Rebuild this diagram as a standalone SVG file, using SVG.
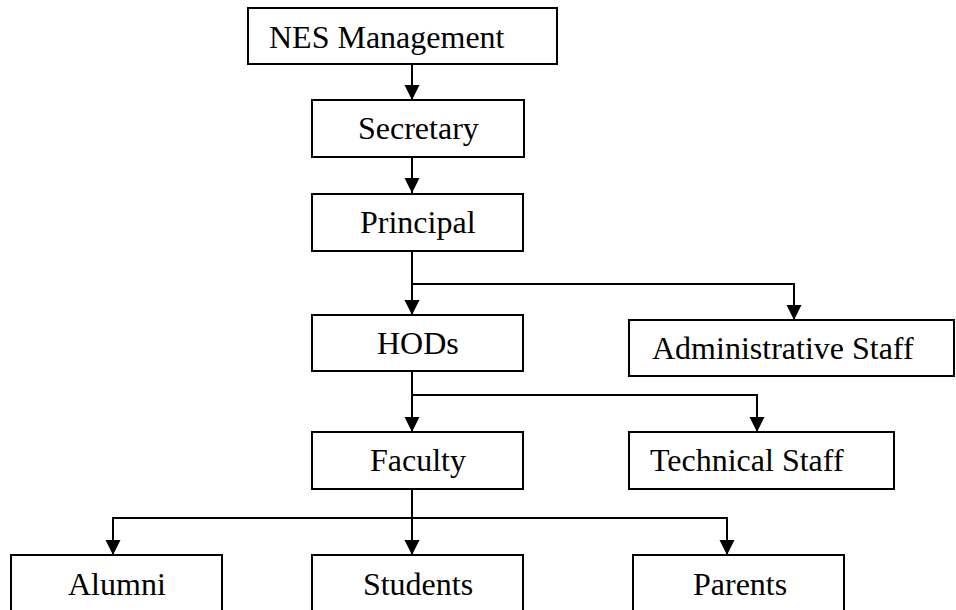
<svg xmlns="http://www.w3.org/2000/svg" width="956" height="610" viewBox="0 0 956 610">
<style>
.box{fill:#fff;stroke:#000;stroke-width:2}
.lbl{font-family:"Liberation Serif","Times New Roman",serif;font-size:32px;fill:#000}
.con{fill:none;stroke:#000;stroke-width:2}
</style>
<defs>
<marker id="ah" markerUnits="userSpaceOnUse" markerWidth="15" markerHeight="16" refX="15" refY="7.5" orient="auto" viewBox="0 0 15 15">
<path d="M0,0 L15,7.5 L0,15 z" fill="#000"/>
</marker>
</defs>
<rect width="956" height="610" fill="#fff"/>
<g id="connectors">
<path class="con" d="M412,64 V100" marker-end="url(#ah)"/>
<path class="con" d="M412,157 V193" marker-end="url(#ah)"/>
<path class="con" d="M412,251 V315" marker-end="url(#ah)"/>
<path class="con" d="M412,284 H794 V320" marker-end="url(#ah)"/>
<path class="con" d="M412,371 V432" marker-end="url(#ah)"/>
<path class="con" d="M412,395 H757 V432" marker-end="url(#ah)"/>
<path class="con" d="M412,489 V555" marker-end="url(#ah)"/>
<path class="con" d="M412,518 H113 V555" marker-end="url(#ah)"/>
<path class="con" d="M412,518 H727 V555" marker-end="url(#ah)"/>
</g>
<g id="nes"><rect class="box" x="248" y="8" width="309" height="56"/><text class="lbl" x="269" y="48">NES Management</text></g>
<g id="secretary"><rect class="box" x="312" y="100" width="212" height="57"/><text class="lbl" x="358" y="139">Secretary</text></g>
<g id="principal"><rect class="box" x="312" y="194" width="211" height="57"/><text class="lbl" x="360" y="233">Principal</text></g>
<g id="hods"><rect class="box" x="312" y="315" width="211" height="56"/><text class="lbl" x="377" y="354">HODs</text></g>
<g id="admin"><rect class="box" x="629" y="320" width="325" height="56"/><text class="lbl" x="652" y="359">Administrative Staff</text></g>
<g id="faculty"><rect class="box" x="312" y="432" width="211" height="57"/><text class="lbl" x="370" y="471">Faculty</text></g>
<g id="technical"><rect class="box" x="629" y="432" width="265" height="57"/><text class="lbl" x="650" y="471">Technical Staff</text></g>
<g id="alumni"><rect class="box" x="11" y="555" width="211" height="60"/><text class="lbl" x="68" y="595">Alumni</text></g>
<g id="students"><rect class="box" x="312" y="555" width="211" height="60"/><text class="lbl" x="418" y="595" text-anchor="middle">Students</text></g>
<g id="parents"><rect class="box" x="633" y="555" width="211" height="60"/><text class="lbl" x="693" y="595">Parents</text></g>
</svg>
